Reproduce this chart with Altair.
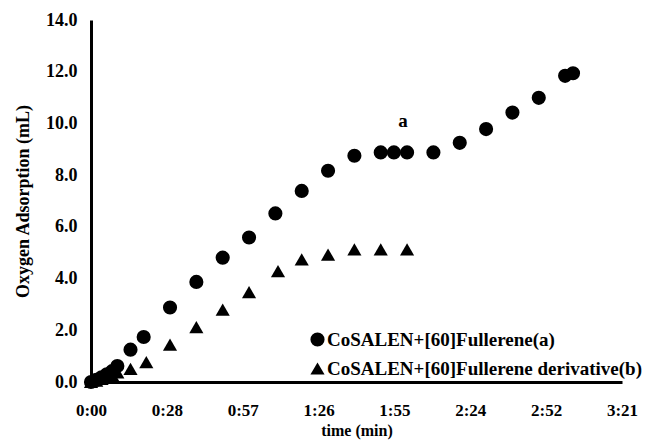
import altair as alt
import pandas as pd

# ---- data ----
series_names = ["CoSALEN+[60]Fullerene(a)", "CoSALEN+[60]Fullerene derivative(b)"]

time_a = [0, 2, 4, 6, 8, 10, 15, 20, 30, 40, 50, 60, 70, 80, 90, 100, 110, 115, 120, 130,
          140, 150, 160, 170, 180, 183]
ads_a = [0.0, 0.08, 0.18, 0.3, 0.42, 0.62, 1.25, 1.74, 2.88, 3.87, 4.81, 5.59, 6.52, 7.39,
         8.17, 8.75, 8.88, 8.88, 8.88, 8.88, 9.25, 9.78, 10.42, 10.99, 11.84, 11.94]

time_b = [0, 2, 4, 6, 8, 10, 15, 21, 30, 40, 50, 60, 71, 80, 90, 100, 110, 120]
ads_b = [0.0, 0.05, 0.12, 0.2, 0.28, 0.37, 0.51, 0.77, 1.45, 2.12, 2.80, 3.48, 4.29, 4.74,
         4.93, 5.13, 5.13, 5.13]

x_tick_values = [0, 28.8, 57.6, 86.4, 115.2, 144.0, 172.8, 201.6]
x_tick_labels = ["0:00", "0:28", "0:57", "1:26", "1:55", "2:24", "2:52", "3:21"]
y_tick_values = [0, 2, 4, 6, 8, 10, 12, 14]

ann_x = [118.5]
ann_y = [10.1]
ann_text = ["a"]

# ---- build tables ----
df = pd.concat([
    pd.DataFrame({"time": time_a, "ads": ads_a, "series": series_names[0]}),
    pd.DataFrame({"time": time_b, "ads": ads_b, "series": series_names[1]}),
], ignore_index=True)
ann = pd.DataFrame({"time": ann_x, "ads": ann_y, "label": ann_text})

FONT = "Liberation Serif"
label_expr = "[" + ",".join(f"'{s}'" for s in x_tick_labels) + "][round(datum.value/28.8)]"

xscale = alt.Scale(domain=[0, 201.6], nice=False, zero=False)
yscale = alt.Scale(domain=[0, 14], nice=False)

common_axis = dict(ticks=False, grid=False, domainColor="black", domainWidth=3,
                   labelFont=FONT, titleFont=FONT, labelFontWeight="bold",
                   titleFontWeight="bold", labelColor="black", titleColor="black",
                   labelFlush=False, labelOverlap=False)

points = alt.Chart(df).mark_point(filled=True, color="black", size=200, opacity=1).encode(
    x=alt.X("time:Q", scale=xscale,
            axis=alt.Axis(values=x_tick_values, labelExpr=label_expr, title="time (min)",
                          labelPadding=20, titlePadding=4,
                          labelFontSize=17, titleFontSize=16, **common_axis)),
    y=alt.Y("ads:Q", scale=yscale,
            axis=alt.Axis(values=y_tick_values, format=".1f", title="Oxygen Adsorption (mL)",
                          labelPadding=14, titlePadding=13,
                          labelFontSize=18, titleFontSize=18, **common_axis)),
    shape=alt.Shape("series:N",
                    scale=alt.Scale(domain=series_names, range=["circle", "triangle-up"]),
                    legend=alt.Legend(title=None, orient="none", legendX=217, legendY=310,
                                      padding=0, labelFontSize=19, labelFont=FONT,
                                      labelFontWeight="bold", labelColor="black",
                                      labelLimit=500, labelOffset=0, rowPadding=9,
                                      symbolSize=200, symbolFillColor="black",
                                      symbolStrokeColor="black", symbolStrokeWidth=0)),
)

annot = alt.Chart(ann).mark_text(font=FONT, fontWeight="bold", fontSize=19, color="black",
                                 baseline="middle", align="center").encode(
    x=alt.X("time:Q", scale=xscale),
    y=alt.Y("ads:Q", scale=yscale),
    text="label:N",
)

chart = (points + annot).properties(
    width=531, height=362,
    background="white",
    autosize=alt.AutoSizeParams(type="none"),
    padding={"left": 91, "top": 20, "right": 23, "bottom": 63},
).configure_view(stroke=None)

chart.save("out.html", embed_options={"renderer": "svg", "actions": False})
